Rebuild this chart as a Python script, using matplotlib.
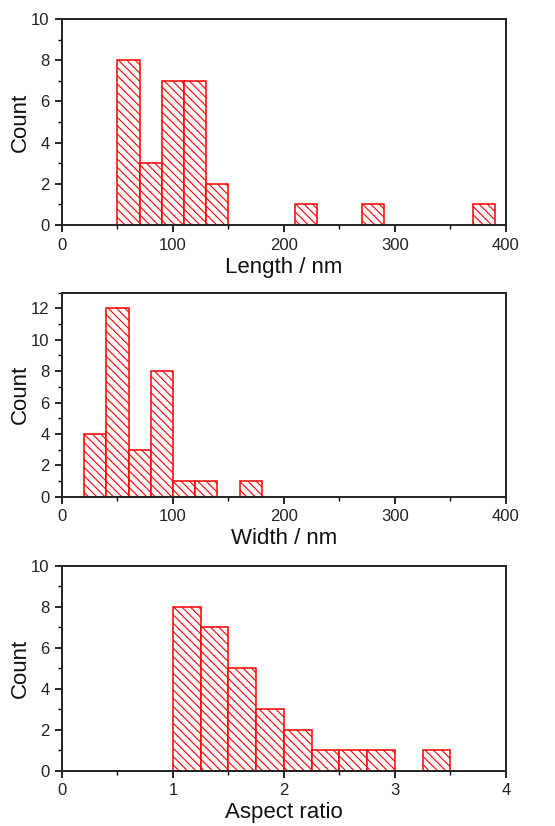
import matplotlib.pyplot as plt
from matplotlib.ticker import MultipleLocator

plt.rcParams['font.family'] = ['Liberation Sans', 'DejaVu Sans']
plt.rcParams['hatch.linewidth'] = 0.8
plt.rcParams['hatch.color'] = 'red'

# histogram data: left bin edges, counts, bin width
length_edges = [50, 70, 90, 110, 130, 210, 270, 370]
length_counts = [8, 3, 7, 7, 2, 1, 1, 1]
length_width = 20

width_edges = [20, 40, 60, 80, 100, 120, 160]
width_counts = [4, 12, 3, 8, 1, 1, 1]
width_width = 20

ratio_edges = [1.0, 1.25, 1.5, 1.75, 2.0, 2.25, 2.5, 2.75, 3.25]
ratio_counts = [8, 7, 5, 3, 2, 1, 1, 1, 1]
ratio_width = 0.25

fig = plt.figure(figsize=(5.55, 8.26), dpi=100)

panels = [
    ([0.1117, 0.7276, 0.80, 0.2494], length_edges, length_counts, length_width,
     "Length / nm", (0, 400), 100, 50, (0, 10), 2),
    ([0.1117, 0.3987, 0.80, 0.2470], width_edges, width_counts, width_width,
     "Width / nm", (0, 400), 100, 50, (0, 13), 2),
    ([0.1117, 0.0670, 0.80, 0.2480], ratio_edges, ratio_counts, ratio_width,
     "Aspect ratio", (0, 4), 1, 0.5, (0, 10), 2),
]

for rect, edges, counts, w, xlabel, xlim, xmaj, xmin, ylim, ymaj in panels:
    ax = fig.add_axes(rect)
    ax.bar(edges, counts, width=w, align='edge', facecolor='white',
           edgecolor='red', linewidth=1.1, hatch='\\\\\\\\')
    ax.set_xlim(*xlim)
    ax.set_ylim(*ylim)
    ax.xaxis.set_major_locator(MultipleLocator(xmaj))
    ax.xaxis.set_minor_locator(MultipleLocator(xmin))
    ax.yaxis.set_major_locator(MultipleLocator(ymaj))
    ax.yaxis.set_minor_locator(MultipleLocator(1))
    ax.tick_params(which='major', direction='out', length=5, width=1.2,
                   labelsize=12, labelcolor='#222222', pad=4)
    ax.tick_params(which='minor', direction='out', length=3, width=1.0)
    for s in ax.spines.values():
        s.set_linewidth(1.4)
        s.set_color('#222222')
    ax.set_xlabel(xlabel, fontsize=16, color='#111111', labelpad=3)
    ax.set_ylabel("Count", fontsize=16, color='#111111', labelpad=0)

fig.savefig("out.png", dpi=100)
